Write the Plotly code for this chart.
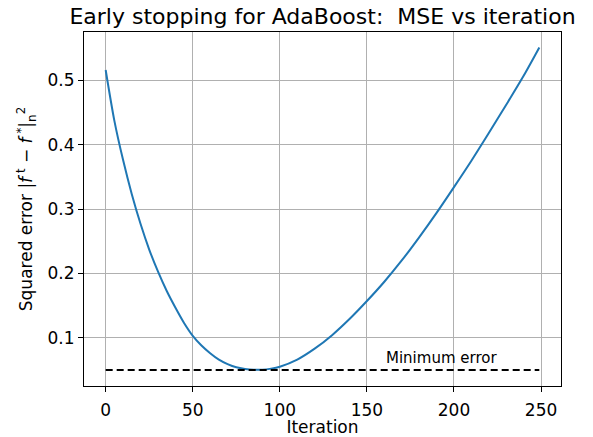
import plotly.graph_objects as go

iterations = [0, 5, 10, 15, 20, 25, 30, 35, 40, 45, 50, 55, 60, 65, 70, 75, 80, 85, 90, 95,
              100, 110, 120, 130, 140, 150, 160, 170, 180, 190, 200, 210, 220, 230, 240, 249]
mse = [0.516, 0.437, 0.376, 0.323, 0.277, 0.237, 0.203, 0.173, 0.147, 0.123, 0.103, 0.088,
       0.076, 0.066, 0.059, 0.054, 0.0515, 0.0502, 0.0503, 0.052,
       0.055, 0.066, 0.083, 0.104, 0.129, 0.157, 0.187, 0.220, 0.256, 0.294, 0.334, 0.375,
       0.418, 0.462, 0.507, 0.551]
min_error = 0.05
x_ticks = [0, 50, 100, 150, 200, 250]
y_ticks = [0.1, 0.2, 0.3, 0.4, 0.5]

font = "DejaVu Sans"
fig = go.Figure()
fig.add_trace(go.Scatter(x=iterations, y=mse, mode="lines",
                         line=dict(color="#1f77b4", width=2, shape="spline", smoothing=0.8),
                         showlegend=False))
fig.add_trace(go.Scatter(x=[iterations[0], iterations[-1]], y=[min_error, min_error], mode="lines",
                         line=dict(color="black", width=2, dash="7px,4px"), showlegend=False))
fig.add_annotation(x=160, y=min_error, text="Minimum error", showarrow=False,
                   xanchor="left", yanchor="middle", yshift=12,
                   font=dict(family=font, size=15, color="black"))

axis_common = dict(showline=True, linecolor="black", linewidth=1.2, mirror=True, ticks="outside",
                   ticklen=5, tickwidth=1.2, tickcolor="black", showgrid=True, gridcolor="#b0b0b0",
                   gridwidth=1, zeroline=False, automargin=False,
                   tickfont=dict(family=font, size=17, color="black"))
fig.update_xaxes(range=[-12.45, 261.45], tickvals=x_ticks, ticklabelstandoff=3,
                 title=dict(text="Iteration", font=dict(family=font, size=17, color="black"), standoff=6),
                 **axis_common)
fig.update_yaxes(range=[0.025, 0.575], tickvals=y_ticks, tickformat=".1f",
                 title=dict(text="Squared error |<i>f</i><sup> t</sup> − <i>f</i><sup> *</sup>|<sub>n</sub><sup>2</sup>",
                            font=dict(family=font, size=17, color="black"), standoff=10),
                 **axis_common)
fig.update_layout(width=593, height=437, margin=dict(l=84, r=32, t=32, b=51),
                  paper_bgcolor="white", plot_bgcolor="white",
                  title=dict(text="Early stopping for AdaBoost:  MSE vs iteration", xref="paper", x=0.5,
                             xanchor="center", y=0.962, yanchor="middle",
                             font=dict(family=font, size=22, color="black")))
fig.write_html("out.html")
